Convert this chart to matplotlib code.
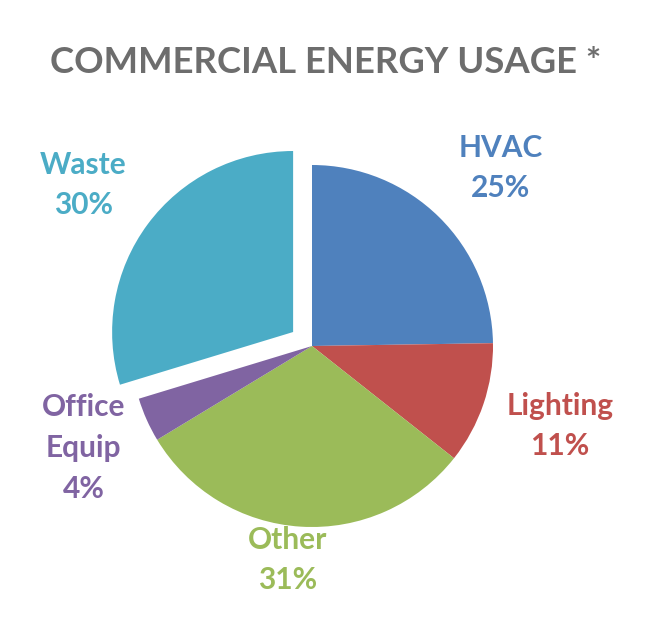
import matplotlib.pyplot as plt

# data
categories = ['HVAC', 'Lighting', 'Other', 'Office\nEquip', 'Waste']
values = [25, 11, 31, 4, 30]
colors = ['#4F81BD', '#C0504D', '#9BBB59', '#8064A2', '#4BACC6']
explode = [0, 0, 0, 0, 23.5]   # in pixels (data units)

plt.rcParams['font.family'] = ['Lato', 'DejaVu Sans']

fig = plt.figure(figsize=(6.49, 6.18), dpi=100)
ax = fig.add_axes([0, 0, 1, 1])

cx, cy, r = 312, 272, 181
ax.pie(values, colors=colors, explode=explode, startangle=90,
       counterclock=False, center=(cx, cy), radius=r,
       wedgeprops=dict(linewidth=0), frame=True)
ax.set_xlim(0, 649)
ax.set_ylim(0, 618)
ax.set_aspect('equal')
ax.axis('off')

# labels
label_pos = [(501, 450), (560, 192), (288, 58), (83.5, 170), (83.5, 433)]
for name, v, c, (x, y) in zip(categories, values, colors, label_pos):
    ax.text(x, y, f'{name}\n{v}%', color=c, fontsize=21.5, fontweight='bold',
            ha='center', va='center', linespacing=1.55)

ax.text(325.5, 545, 'COMMERCIAL ENERGY USAGE *', color='#6D6D6D', fontsize=26.3,
        fontweight='bold', ha='center', va='baseline')

fig.savefig('out.png', dpi=100)
